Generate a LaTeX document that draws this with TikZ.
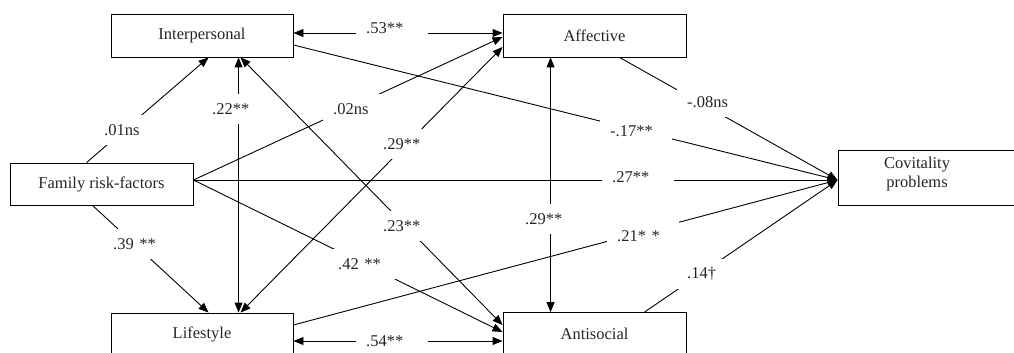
\documentclass[tikz,border=0pt]{standalone}
\usepackage{fontspec}
\setmainfont{Liberation Serif}
\usetikzlibrary{arrows.meta}
\begin{document}
\begin{tikzpicture}[x=1pt,y=-1pt,
  txt/.style={text=black!85, font=\fontsize{16.5}{19}\selectfont},
  box/.style={draw, line width=0.9pt, minimum width=182pt, minimum height=43pt, inner sep=0pt, txt},
  conn/.style={line width=0.9pt, -{Triangle[length=10pt,width=8pt]}},
  biconn/.style={line width=0.9pt, {Triangle[length=10pt,width=8pt]}-{Triangle[length=10pt,width=8pt]}},
  lbl/.style={fill=white, anchor=west, inner xsep=10pt, inner ysep=0pt, minimum height=30pt, text width=52pt, align=left, txt}]
\useasboundingbox (0,0) rectangle (1014,353);
% boxes
\node[box] (intp) at (202,35.5) {Interpersonal};
\node[box, minimum width=183pt] (aff) at (594.5,35.5) {Affective};
\node[box, minimum width=183pt, minimum height=42pt] (fam) at (101.5,184) {Family risk-factors};
\node[box] (life) at (202,334.5) {Lifestyle};
\node[box, minimum width=183pt] (anti) at (594.5,334) {Antisocial};
\node[draw, line width=0.9pt, minimum width=187pt, minimum height=55pt, inner sep=0pt] (cov) at (931.5,177.5) {};
\node[txt, align=center, inner sep=0pt] (covtxt) at (917,174) {Covitality\\problems};
% anchor coordinates
\coordinate (famR) at ([yshift=4pt]fam.east);
\coordinate (covin) at ([yshift=-2.5pt]cov.west);
% connectors
\draw[biconn] ([yshift=2.5pt]intp.east) -- ([yshift=2.5pt]aff.west);
\draw[conn] ([yshift=-9.5pt]intp.east) -- (covin);
\draw[conn] ([xshift=77pt]fam.north west) -- ([xshift=98pt]intp.south west);
\draw[biconn] ([xshift=128pt]intp.south west) -- ([xshift=128pt]life.north west);
\draw[biconn] ([xshift=130pt]intp.south west) -- ([yshift=9pt]anti.west);
\draw[conn] (famR) -- ([yshift=-1.5pt]aff.west);
\draw[biconn] ([xshift=130pt]life.north west) -- ([yshift=-11.5pt]aff.west);
\draw[conn] ([xshift=83pt]fam.south west) -- ([xshift=98pt]life.north west);
\draw[conn] (famR) -- (covin);
\draw[conn] (famR) -- ([yshift=2pt]anti.west);
\draw[biconn] ([xshift=48pt]aff.south west) -- ([xshift=48pt]anti.north west);
\draw[conn] ([yshift=9.5pt]life.east) -- (covin);
\draw[conn] ([xshift=117pt]aff.south west) -- (covin);
\draw[conn] ([xshift=142pt]anti.north west) -- (covin);
\draw[biconn] ([yshift=-6.5pt]life.east) -- ([yshift=-7pt]anti.west);
% labels
\node[lbl] (l53) at (356,28) {.53**};
\node[lbl] (l01) at (94,130) {.01ns};
\node[lbl, text width=40pt] (l22) at (202,109) {.22**};
\node[lbl] (l02) at (323,109) {.02ns};
\node[lbl] (l29a) at (373,144) {.29**};
\node[lbl] (l17) at (600,131) {-.17**};
\node[lbl] (l08) at (677,102) {-.08ns};
\node[lbl] (l27) at (602,177) {.27**};
\node[lbl] (l23) at (373,226) {.23**};
\node[lbl] (l29b) at (515,219) {.29**};
\node[lbl] (l21) at (607,236) {.21* *};
\node[lbl] (l42) at (328,264) {.42 **};
\node[lbl] (l39) at (103,244) {.39 **};
\node[lbl] (l14) at (677,274) {.14†};
\node[lbl] (l54) at (356,341) {.54**};
\end{tikzpicture}
\end{document}
